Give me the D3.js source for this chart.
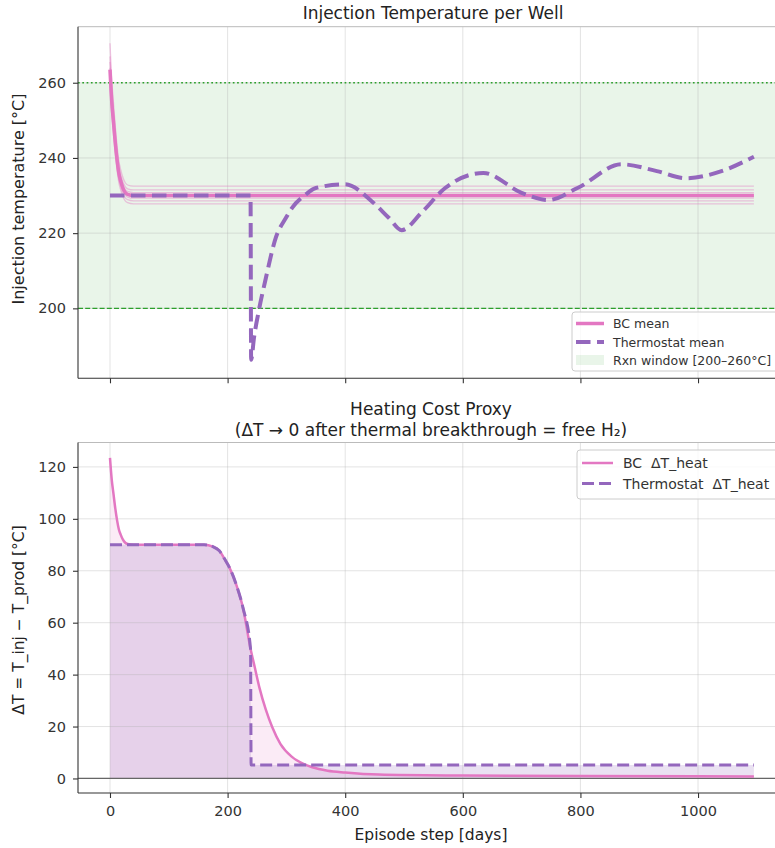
<!DOCTYPE html>
<html><head><meta charset="utf-8">
<script src="https://cdn.jsdelivr.net/npm/d3@7"></script>
<style>body{margin:0;background:#fff} text{font-family:"DejaVu Sans",sans-serif}</style>
</head><body><svg id="c" width="775" height="848"></svg>
<script>
// ---------------- DATA ----------------
const xTickVals = [0, 200, 400, 600, 800, 1000];
const yTopTicks = [200, 220, 240, 260];
const yBotTicks = [0, 20, 40, 60, 80, 100, 120];
const rxnWindow = [200, 260];

// early-time sampling shared by well traces and BC mean (days)
const tEarly = [0, 3, 6, 9, 12, 15, 18, 22, 26, 30, 40, 1095];
const wellSeries = [
  [270.5, 260.8, 254.5, 248.4, 243.3, 239.3, 237.0, 234.8, 233.4, 232.8, 232.5, 232.5],
  [267.0, 258.0, 252.1, 246.3, 241.6, 237.9, 235.7, 233.6, 232.4, 231.8, 231.5, 231.5],
  [265.5, 256.7, 250.9, 245.3, 240.7, 237.0, 234.9, 232.9, 231.6, 231.1, 230.8, 230.8],
  [264.0, 255.4, 249.8, 244.3, 239.8, 236.2, 234.2, 232.2, 231.0, 230.5, 230.2, 230.2],
  [263.0, 254.6, 249.1, 243.7, 239.2, 235.7, 233.8, 231.8, 230.6, 230.1, 229.8, 229.8],
  [262.0, 253.7, 248.3, 243.0, 238.6, 235.2, 233.2, 231.3, 230.1, 229.6, 229.3, 229.3],
  [261.0, 252.8, 247.4, 242.1, 237.8, 234.4, 232.5, 230.5, 229.4, 228.9, 228.6, 228.6],
  [259.5, 251.5, 246.2, 241.1, 236.8, 233.5, 231.6, 229.7, 228.6, 228.1, 227.8, 227.8]
];
const bcMeanTop = [263.5, 255.0, 249.5, 244.0, 239.5, 236.0, 234.0, 232.0, 230.8, 230.3, 230.0, 230.0];

const thermoTopT = [0, 239, 240, 245, 254, 265, 282, 299, 310, 333, 350, 400, 445, 474, 496, 530, 570, 635, 699, 745, 795, 870, 930, 980, 1040, 1095];
const thermoTopV = [230, 230, 186.3, 192.3, 200.1, 208, 218.8, 224, 226.8, 230.3, 232, 233, 228.5, 224.1, 220.8, 225.5, 232, 236, 230.8, 228.8, 232, 238.3, 236.5, 234.6, 236.5, 240.3];

const bcDtT = [0, 3, 6, 9, 12, 15, 18, 22, 26, 30, 40, 160, 175, 186, 195, 203, 215, 226, 239, 246, 254, 265, 276, 290, 310, 330, 344, 370, 400, 457, 600, 800, 1095];
const bcDtV = [123.5, 115, 109.5, 104, 99.5, 96, 94, 92, 90.8, 90.3, 90, 90, 89.3, 87.7, 84.5, 81.3, 74.5, 65.9, 50, 43, 35.1, 26.5, 19.7, 13.2, 8.2, 5.5, 4.3, 3, 2.3, 1.5, 1.1, 0.9, 0.8];

const thDtT = [0, 160, 175, 186, 195, 203, 215, 226, 239, 240, 1095];
const thDtV = [90, 90, 89.3, 87.7, 84.5, 81.3, 74.5, 65.9, 50, 5.2, 5.2];

// ---------------- STYLE ----------------
const PINK = "#e377c2", PURPLE = "#9467bd", GREEN = "#2ca02c";
const svg = d3.select("#c");
svg.append("rect").attr("width", 775).attr("height", 848).attr("fill", "#fff");

const X0 = 78, X1 = 786;
const x = d3.scaleLinear().domain([-54.4, 1149.6]).range([X0, X1]);
const yT = d3.scaleLinear().domain([181.4, 274.9]).range([378.3, 26.7]);
const yB = d3.scaleLinear().domain([-5.6, 129.4]).range([793, 442.5]);

const zip = (ts, vs) => ts.map((t, i) => [t, vs[i]]);

function grid(g, y, yTicks) {
  const [b, t] = y.range();
  g.selectAll(null).data(xTickVals).join("line")
    .attr("x1", d => x(d)).attr("x2", d => x(d)).attr("y1", t).attr("y2", b)
    .attr("stroke", "#b0b0b0").attr("stroke-opacity", 0.35).attr("stroke-width", 1);
  g.selectAll(null).data(yTicks).join("line")
    .attr("x1", X0).attr("x2", X1).attr("y1", d => y(d)).attr("y2", d => y(d))
    .attr("stroke", "#b0b0b0").attr("stroke-opacity", 0.35).attr("stroke-width", 1);
}
function spines(g, y) {
  const [b, t] = y.range();
  g.append("line").attr("x1", X0).attr("x2", X1).attr("y1", t).attr("y2", t).attr("stroke", "#bbb").attr("stroke-width", 1);
  g.append("line").attr("x1", X0).attr("x2", X0).attr("y1", t).attr("y2", b).attr("stroke", "#333").attr("stroke-width", 1.1);
  g.append("line").attr("x1", X0).attr("x2", X1).attr("y1", b).attr("y2", b).attr("stroke", "#333").attr("stroke-width", 1.1);
}
function styleAxis(a) {
  a.select(".domain").remove();
  a.selectAll(".tick line").attr("stroke", "#333").attr("stroke-width", 1.1);
  a.selectAll(".tick text").attr("fill", "#333").style("font-size", "14.5px").style("font-family", "DejaVu Sans");
}

// ---------------- TOP PANEL ----------------
const gTop = svg.append("g");
gTop.append("rect").attr("x", X0).attr("width", X1 - X0)
  .attr("y", yT(rxnWindow[1])).attr("height", yT(rxnWindow[0]) - yT(rxnWindow[1]))
  .attr("fill", GREEN).attr("fill-opacity", 0.1);
grid(gTop, yT, yTopTicks);
gTop.append("line").attr("x1", X0).attr("x2", X1).attr("y1", yT(260)).attr("y2", yT(260))
  .attr("stroke", GREEN).attr("stroke-width", 1.5).attr("stroke-dasharray", "1.7,2.6");
gTop.append("line").attr("x1", X0).attr("x2", X1).attr("y1", yT(200)).attr("y2", yT(200))
  .attr("stroke", GREEN).attr("stroke-width", 1.3).attr("stroke-dasharray", "5,2.2");

const lineT = d3.line().x(d => x(d[0])).y(d => yT(d[1])).curve(d3.curveMonotoneX);
wellSeries.forEach(w => {
  gTop.append("path").attr("d", lineT(zip(tEarly, w))).attr("fill", "none")
    .attr("stroke", PINK).attr("stroke-opacity", 0.42).attr("stroke-width", 1.3);
});
gTop.append("path").attr("d", lineT(zip(tEarly, bcMeanTop))).attr("fill", "none")
  .attr("stroke", PINK).attr("stroke-width", 3.5);
gTop.append("path").attr("d", lineT(zip(thermoTopT, thermoTopV))).attr("fill", "none")
  .attr("stroke", PURPLE).attr("stroke-width", 4).attr("stroke-dasharray", "14.5,6.5");
spines(gTop, yT);
const axTL = gTop.append("g").attr("transform", `translate(${X0},0)`)
  .call(d3.axisLeft(yT).tickValues(yTopTicks).tickSize(5).tickPadding(7));
styleAxis(axTL);
const axTB = gTop.append("g").attr("transform", `translate(0,378.3)`)
  .call(d3.axisBottom(x).tickValues(xTickVals).tickSize(5).tickFormat(""));
styleAxis(axTB);

gTop.append("text").attr("x", 433).attr("y", 19).attr("text-anchor", "middle")
  .style("font-size", "17px").attr("fill", "#222").text("Injection Temperature per Well");
gTop.append("text").attr("transform", "translate(24,199) rotate(-90)").attr("text-anchor", "middle")
  .style("font-size", "16px").attr("fill", "#222").text("Injection temperature [°C]");

// top legend
const lg1 = svg.append("g");
lg1.append("rect").attr("x", 572).attr("y", 312).attr("width", 240).attr("height", 59).attr("rx", 3)
  .attr("fill", "#fff").attr("fill-opacity", 0.8).attr("stroke", "#ccc");
lg1.append("line").attr("x1", 576).attr("x2", 604).attr("y1", 323.5).attr("y2", 323.5)
  .attr("stroke", PINK).attr("stroke-width", 3.5);
lg1.append("line").attr("x1", 576).attr("x2", 604).attr("y1", 342).attr("y2", 342)
  .attr("stroke", PURPLE).attr("stroke-width", 4).attr("stroke-dasharray", "14.5,6.5");
lg1.append("rect").attr("x", 576).attr("y", 355).attr("width", 28).attr("height", 10)
  .attr("fill", GREEN).attr("fill-opacity", 0.1);
[["BC mean", 323.5], ["Thermostat mean", 342], ["Rxn window [200–260°C]", 360]].forEach(([t, yy]) => {
  lg1.append("text").attr("x", 613).attr("y", yy + 4.5).style("font-size", "12.5px").attr("fill", "#333").text(t);
});

// ---------------- BOTTOM PANEL ----------------
const gBot = svg.append("g");
const areaB = d3.area().x(d => x(d[0])).y0(yB(0)).y1(d => yB(d[1])).curve(d3.curveMonotoneX);
const lineB = d3.line().x(d => x(d[0])).y(d => yB(d[1])).curve(d3.curveMonotoneX);
gBot.append("path").attr("d", areaB(zip(bcDtT, bcDtV))).attr("fill", PINK).attr("fill-opacity", 0.15);
gBot.append("path").attr("d", areaB(zip(thDtT, thDtV))).attr("fill", PURPLE).attr("fill-opacity", 0.2);
grid(gBot, yB, yBotTicks);
gBot.append("line").attr("x1", X0).attr("x2", X1).attr("y1", yB(0)).attr("y2", yB(0))
  .attr("stroke", "#666").attr("stroke-width", 1.2);
gBot.append("path").attr("d", lineB(zip(bcDtT, bcDtV))).attr("fill", "none")
  .attr("stroke", PINK).attr("stroke-width", 2.5);
gBot.append("path").attr("d", lineB(zip(thDtT, thDtV))).attr("fill", "none")
  .attr("stroke", PURPLE).attr("stroke-width", 3).attr("stroke-dasharray", "12,5");
spines(gBot, yB);
const axBL = gBot.append("g").attr("transform", `translate(${X0},0)`)
  .call(d3.axisLeft(yB).tickValues(yBotTicks).tickSize(5).tickPadding(7));
styleAxis(axBL);
const axBB = gBot.append("g").attr("transform", `translate(0,793)`)
  .call(d3.axisBottom(x).tickValues(xTickVals).tickSize(5).tickPadding(8).tickFormat(d3.format("d")));
styleAxis(axBB);

gBot.append("text").attr("x", 431).attr("y", 415).attr("text-anchor", "middle")
  .style("font-size", "17px").attr("fill", "#222").text("Heating Cost Proxy");
gBot.append("text").attr("x", 431).attr("y", 436).attr("text-anchor", "middle")
  .style("font-size", "17px").attr("fill", "#222").text("(ΔT → 0 after thermal breakthrough = free H₂)");
gBot.append("text").attr("x", 431).attr("y", 840).attr("text-anchor", "middle")
  .style("font-size", "15.5px").attr("fill", "#222").text("Episode step [days]");
gBot.append("text").attr("transform", "translate(24,620) rotate(-90)").attr("text-anchor", "middle")
  .style("font-size", "15.5px").attr("fill", "#222").text("ΔT = T_inj − T_prod  [°C]");

// bottom legend
const lg2 = svg.append("g");
lg2.append("rect").attr("x", 577).attr("y", 450).attr("width", 240).attr("height", 49).attr("rx", 3)
  .attr("fill", "#fff").attr("fill-opacity", 0.8).attr("stroke", "#ccc");
lg2.append("line").attr("x1", 582).attr("x2", 613).attr("y1", 463).attr("y2", 463)
  .attr("stroke", PINK).attr("stroke-width", 2.5);
lg2.append("line").attr("x1", 582).attr("x2", 613).attr("y1", 483.5).attr("y2", 483.5)
  .attr("stroke", PURPLE).attr("stroke-width", 3).attr("stroke-dasharray", "12,5");
[["BC  ΔT_heat", 463], ["Thermostat  ΔT_heat", 483.5]].forEach(([t, yy]) => {
  lg2.append("text").attr("x", 623).attr("y", yy + 5).style("font-size", "14px").attr("fill", "#333")
    .style("white-space", "pre").attr("xml:space", "preserve").text(t);
});
</script></body></html>
